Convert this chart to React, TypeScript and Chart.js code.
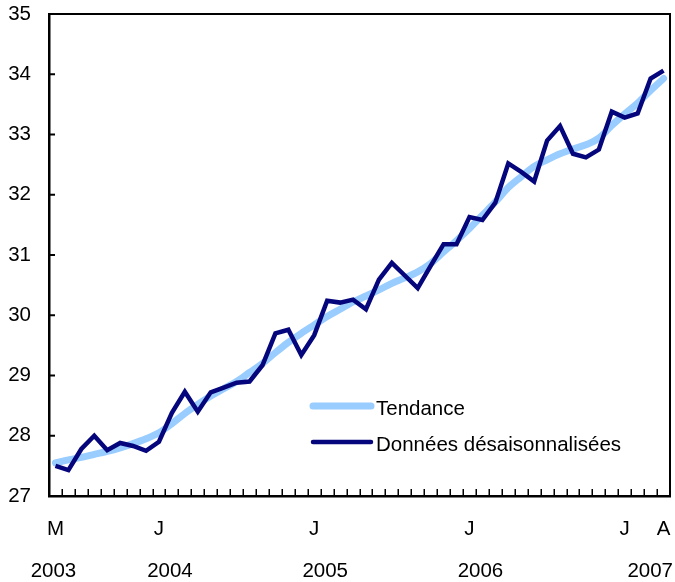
import React, { useEffect, useRef } from "react";
import { Chart, registerables } from "chart.js";

Chart.register(...registerables);

// Months from May 2003 to April 2007
const categories = [
  "2003-05", "2003-06", "2003-07", "2003-08", "2003-09", "2003-10", "2003-11", "2003-12",
  "2004-01", "2004-02", "2004-03", "2004-04", "2004-05", "2004-06", "2004-07", "2004-08", "2004-09", "2004-10", "2004-11", "2004-12",
  "2005-01", "2005-02", "2005-03", "2005-04", "2005-05", "2005-06", "2005-07", "2005-08", "2005-09", "2005-10", "2005-11", "2005-12",
  "2006-01", "2006-02", "2006-03", "2006-04", "2006-05", "2006-06", "2006-07", "2006-08", "2006-09", "2006-10", "2006-11", "2006-12",
  "2007-01", "2007-02", "2007-03", "2007-04",
];

const frenchMonthInitials = ["J", "F", "M", "A", "M", "J", "J", "A", "S", "O", "N", "D"];

const yearLabels = ["2003", "2004", "2005", "2006", "2007"];

const trend = [
  27.55, 27.6, 27.64, 27.69, 27.74, 27.8, 27.87, 27.95,
  28.05, 28.2, 28.37, 28.52, 28.66, 28.78, 28.9, 29.05, 29.2, 29.38, 29.55, 29.7,
  29.84, 29.98, 30.1, 30.22, 30.32, 30.42, 30.53, 30.62, 30.72, 30.86, 31.05, 31.24,
  31.44, 31.66, 31.88, 32.12, 32.3, 32.47, 32.58, 32.68, 32.76, 32.83, 32.94, 33.15,
  33.34, 33.52, 33.73, 33.93,
];

const seasonallyAdjusted = [
  27.5, 27.43, 27.78, 28.0, 27.76, 27.88, 27.83, 27.75,
  27.9, 28.38, 28.73, 28.4, 28.72, 28.8, 28.88, 28.9, 29.17, 29.7, 29.76, 29.34,
  29.67, 30.24, 30.21, 30.26, 30.1, 30.59, 30.87, 30.66, 30.45, 30.82, 31.18, 31.18,
  31.63, 31.58, 31.87, 32.52, 32.38, 32.22, 32.9, 33.14, 32.68, 32.62, 32.75, 33.38,
  33.28, 33.35, 33.93, 34.06,
];

const seriesNames = ["Tendance", "Données désaisonnalisées"];
const yMin = 27;
const yMax = 35;

const FONT_FAMILY = '"Liberation Sans", Arial, Helvetica, sans-serif';
const FONT_SIZE = 20.5;
const TREND_COLOR = "#99ccff";
const DATA_COLOR = "#06067c";

const monthInitial = (cat: string) => frenchMonthInitials[parseInt(cat.slice(5), 10) - 1];

const zeroPadding = (s: any) => {
  s.paddingTop = 0;
  s.paddingBottom = 0;
  s.paddingLeft = 0;
  s.paddingRight = 0;
};

const framePlugin = {
  id: "frameAndInnerTicks",
  afterDatasetsDraw(chart: any) {
    const { ctx, chartArea } = chart;
    const xs = chart.scales.x;
    const ys = chart.scales.y;
    ctx.save();
    ctx.strokeStyle = "#000";
    // x ticks between categories, pointing into plot
    ctx.lineWidth = 1.5;
    ctx.beginPath();
    for (let i = 0; i < categories.length - 1; i++) {
      const px = Math.round((xs.getPixelForValue(i) + xs.getPixelForValue(i + 1)) / 2) + 0.25;
      ctx.moveTo(px, chartArea.bottom);
      ctx.lineTo(px, chartArea.bottom - 7);
    }
    ctx.stroke();
    // y ticks pointing into plot
    ctx.lineWidth = 2;
    ctx.beginPath();
    for (let v = yMin + 1; v < yMax; v++) {
      const py = ys.getPixelForValue(v);
      ctx.moveTo(chartArea.left, py);
      ctx.lineTo(chartArea.left + 6, py);
    }
    ctx.stroke();
    // top and right frame
    ctx.lineWidth = 2;
    ctx.beginPath();
    ctx.moveTo(chartArea.left, chartArea.top);
    ctx.lineTo(chartArea.right, chartArea.top);
    ctx.lineTo(chartArea.right, chartArea.bottom);
    ctx.stroke();

    // year labels
    ctx.fillStyle = "#000";
    ctx.font = `${FONT_SIZE}px ${FONT_FAMILY}`;
    ctx.textBaseline = "middle";
    const yearY = chartArea.bottom + 75;
    const catW = xs.getPixelForValue(1) - xs.getPixelForValue(0);
    yearLabels.forEach((yr, k) => {
      if (k === 0) {
        ctx.textAlign = "center";
        ctx.fillText(yr, xs.getPixelForValue(0) - 2, yearY);
      } else if (k === yearLabels.length - 1) {
        ctx.textAlign = "right";
        ctx.fillText(yr, chart.width - 2, yearY);
      } else {
        const idx = categories.indexOf(`${yr}-01`);
        ctx.textAlign = "center";
        ctx.fillText(yr, xs.getPixelForValue(idx) + catW * 0.85, yearY);
      }
    });

    // legend inside plot
    const lx1 = chartArea.left + 264;
    const lx2 = chartArea.left + 322;
    const rows = [
      { y: chartArea.top + 392, color: TREND_COLOR, width: 7, cap: "round" },
      { y: chartArea.top + 428, color: DATA_COLOR, width: 4.5, cap: "round" },
    ];
    rows.forEach((r, k) => {
      ctx.strokeStyle = r.color;
      ctx.lineWidth = r.width;
      ctx.lineCap = r.cap;
      ctx.beginPath();
      ctx.moveTo(lx1, r.y);
      ctx.lineTo(lx2, r.y);
      ctx.stroke();
      ctx.fillStyle = "#000";
      ctx.textAlign = "left";
      ctx.textBaseline = "middle";
      ctx.fillText(seriesNames[k], lx2 + 5, r.y + 3);
    });
    ctx.restore();
  },
};

export default function App() {
  const canvasRef = useRef<HTMLCanvasElement | null>(null);

  useEffect(() => {
    document.body.style.margin = "0";
    const canvas = canvasRef.current;
    if (!canvas) return;
    const font = { family: FONT_FAMILY, size: FONT_SIZE };
    const chart = new Chart(canvas, {
      type: "line",
      data: {
        labels: categories,
        datasets: [
          {
            label: seriesNames[0],
            data: trend,
            borderColor: TREND_COLOR,
            backgroundColor: TREND_COLOR,
            borderWidth: 7,
            borderCapStyle: "round",
            borderJoinStyle: "round",
            pointRadius: 0,
            tension: 0.4,
            cubicInterpolationMode: "monotone",
            order: 2,
          },
          {
            label: seriesNames[1],
            data: seasonallyAdjusted,
            borderColor: DATA_COLOR,
            backgroundColor: DATA_COLOR,
            borderWidth: 4.5,
            borderCapStyle: "butt",
            borderJoinStyle: "miter",
            pointRadius: 0,
            tension: 0,
            order: 1,
          },
        ],
      },
      options: {
        animation: false,
        responsive: false,
        events: [],
        layout: { padding: { top: 14, right: 5, left: 0, bottom: 0 } },
        plugins: {
          legend: { display: false },
          tooltip: { enabled: false },
        },
        scales: {
          x: {
            type: "category",
            offset: true,
            grid: { display: false, drawTicks: false },
            border: { display: true, color: "#000", width: 2.5 },
            ticks: {
              autoSkip: false,
              maxRotation: 0,
              minRotation: 0,
              padding: 21,
              color: "#000",
              font,
              callback: (_v: any, i: number) => {
                const cat = categories[i];
                if (i === 0 || i === categories.length - 1 || cat.endsWith("-01")) return monthInitial(cat);
                return "";
              },
            },
            afterFit: (s: any) => {
              s.height = 86;
              zeroPadding(s);
            },
          },
          y: {
            min: yMin,
            max: yMax,
            grid: { display: false, drawTicks: false },
            border: { display: true, color: "#000", width: 2.5 },
            ticks: { stepSize: 1, padding: 18, color: "#000", font },
            afterFit: (s: any) => {
              s.width = 49;
              zeroPadding(s);
            },
          },
        },
      },
      plugins: [framePlugin],
    } as any);
    return () => chart.destroy();
  }, []);

  return (
    <div style={{ width: 675, height: 582 }}>
      <canvas ref={canvasRef} width={675} height={582} />
    </div>
  );
}
